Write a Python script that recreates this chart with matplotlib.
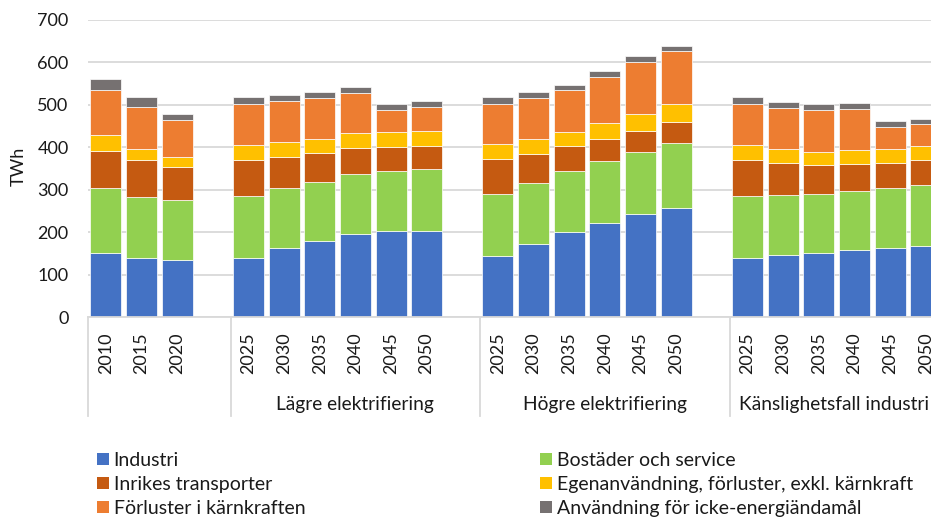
import numpy as np
import matplotlib
matplotlib.use("Agg")
import matplotlib.pyplot as plt
from matplotlib.patches import Patch
from matplotlib.transforms import blended_transform_factory

plt.rcParams['font.family'] = ['Lato', 'DejaVu Sans']

# category structure: each group is followed by one empty slot
groups = ['', 'Lägre elektrifiering', 'Högre elektrifiering', 'Känslighetsfall industri']
group_years = [
    [2010, 2015, 2020],
    [2025, 2030, 2035, 2040, 2045, 2050],
    [2025, 2030, 2035, 2040, 2045, 2050],
    [2025, 2030, 2035, 2040, 2045, 2050],
]

# TWh per bar, in order of the groups above
industri = [150, 140, 135,
            140, 163, 179, 196, 202, 203,
            143, 172, 200, 222, 242, 257,
            139, 146, 150, 158, 163, 168]
bostader = [155, 144, 140,
            146, 142, 140, 142, 143, 145,
            147, 143, 143, 145, 147, 154,
            146, 141, 140, 140, 142, 144]
transporter = [87, 86, 78,
               85, 73, 67, 60, 55, 54,
               82, 69, 59, 52, 49, 48,
               86, 75, 68, 62, 57, 57]
egenanv = [36, 25, 23,
           35, 35, 33, 35, 35, 36,
           35, 35, 35, 39, 41, 44,
           35, 33, 32, 34, 33, 33]
karnkraft = [108, 99, 88,
             97, 95, 97, 96, 54, 56,
             96, 97, 97, 107, 122, 123,
             97, 98, 98, 97, 52, 52]
icke_energi = [25, 25, 15,
               16, 16, 14, 14, 13, 14,
               16, 15, 13, 14, 14, 13,
               15, 14, 14, 14, 14, 13]

series = [
    ('Industri', industri, '#4472C4'),
    ('Bostäder och service', bostader, '#92D050'),
    ('Inrikes transporter', transporter, '#C55A11'),
    ('Egenanvändning, förluster, exkl. kärnkraft', egenanv, '#FFC000'),
    ('Förluster i kärnkraften', karnkraft, '#ED7D31'),
    ('Användning för icke-energiändamål', icke_energi, '#767171'),
]

txt = '#1a1a1a'
grid = '#d9d9d9'

# x positions with a gap slot after every group
pos = []
labels = []
bounds = [-0.5]
start = 0
for yrs in group_years:
    pos += list(range(start, start + len(yrs)))
    labels += [str(y) for y in yrs]
    start += len(yrs) + 1
    bounds.append(start - 0.5)
pos = np.array(pos)

fig = plt.figure(figsize=(9.31, 5.19), dpi=100)
ax = fig.add_axes([88 / 931, 202 / 519, 891.2 / 931, 297 / 519])

bottom = np.zeros(len(pos))
for name, vals, col in series:
    vals = np.array(vals, dtype=float)
    ax.bar(pos, vals, bottom=bottom, width=0.87, color=col,
           edgecolor='white', linewidth=0.5, zorder=3)
    bottom += vals

ax.set_xlim(bounds[0], bounds[-1])
ax.set_ylim(0, 700)
ax.set_yticks(np.arange(0, 701, 100))
ax.yaxis.grid(True, color=grid, linewidth=1.3, zorder=0)
ax.set_axisbelow(True)
for s in ['top', 'right', 'left']:
    ax.spines[s].set_visible(False)
ax.spines['bottom'].set_color(grid)
ax.spines['bottom'].set_linewidth(1.3)
ax.spines['bottom'].set_zorder(4)

ax.set_xticks(pos)
ax.set_xticklabels(labels, rotation=90, fontsize=13, color=txt)
ax.tick_params(axis='x', length=0, pad=11)
ax.tick_params(axis='y', length=0, pad=14, labelsize=13, labelcolor=txt)

# group separators and group names below the year labels
tr = blended_transform_factory(ax.transData, ax.transAxes)
for b in bounds[:-1]:
    ax.plot([b, b], [0, -0.335], transform=tr, color=grid, linewidth=1.3,
            clip_on=False, zorder=1)
for i, g in enumerate(groups):
    if not g:
        continue
    if i == len(groups) - 1:
        ax.text(bounds[i] + 0.27, -0.294, g, transform=tr, ha='left',
                va='center', fontsize=13.8, color=txt)
    else:
        ax.text((bounds[i] + bounds[i + 1]) / 2, -0.294, g, transform=tr,
                ha='center', va='center', fontsize=13.8, color=txt)

fig.text(18.5 / 931, 1 - 166 / 519, 'TWh', rotation=90, ha='center',
         va='center', fontsize=13, color=txt)

handles = [Patch(facecolor=c, label=n) for n, v, c in series]
leg_kw = dict(loc='upper left', frameon=False, borderpad=0, borderaxespad=0,
              handlelength=0.6, handleheight=0.6, handletextpad=0.25,
              labelspacing=0.36, fontsize=14, labelcolor=txt)
fig.legend(handles=handles[0::2], bbox_to_anchor=(97 / 931, 1 - 452 / 519), **leg_kw)
fig.legend(handles=handles[1::2], bbox_to_anchor=(540 / 931, 1 - 452 / 519), **leg_kw)

fig.savefig('out.png', dpi=100)
